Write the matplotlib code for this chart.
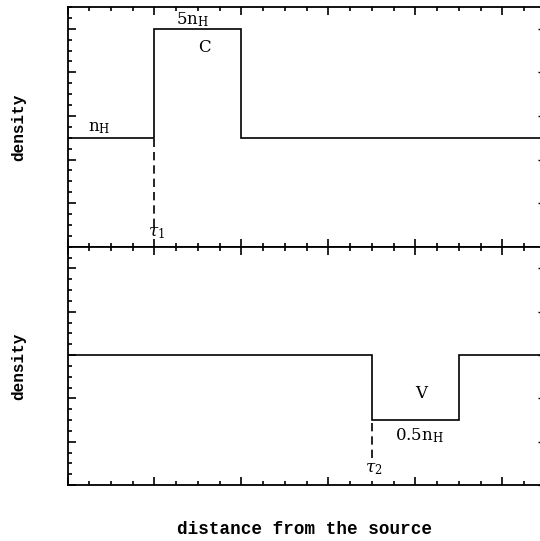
import numpy as np
import matplotlib.pyplot as plt
from matplotlib.ticker import MultipleLocator

# -----------------------------
# data (axis units: 1 major tick = 1)
# -----------------------------
x_max = 5.45
top_edges = [0.0, 1.0, 2.0, x_max]
top_levels = [2.5, 5.0, 2.5]
bot_edges = [0.0, 3.5, 4.5, x_max]
bot_levels = [3.0, 1.5, 3.0]
tau1 = 1.0
tau2 = 3.5

plt.rcParams['font.family'] = ['Liberation Mono', 'DejaVu Sans']
plt.rcParams['mathtext.fontset'] = 'custom'
plt.rcParams['mathtext.rm'] = 'DejaVu Serif'
plt.rcParams['mathtext.it'] = 'DejaVu Serif:italic'

W, H = 540, 541
fig = plt.figure(figsize=(W / 100, H / 100), dpi=100)
left, right = 67.5 / W, 541.5 / W
ax1 = fig.add_axes([left, 1 - 246.7 / H, right - left, 239.7 / H])
ax2 = fig.add_axes([left, 1 - 485 / H, right - left, 238.3 / H])

for ax in (ax1, ax2):
    ax.set_xlim(0, x_max)
    ax.set_ylim(0, 5.5)
    ax.xaxis.set_major_locator(MultipleLocator(1))
    ax.xaxis.set_minor_locator(MultipleLocator(0.25))
    ax.yaxis.set_major_locator(MultipleLocator(1))
    ax.yaxis.set_minor_locator(MultipleLocator(0.25))
    ax.tick_params(which='both', direction='in', top=True, bottom=True, left=True, right=False,
                   labelbottom=False, labelleft=False, width=1.2)
    ax.tick_params(which='major', length=6)
    ax.tick_params(which='minor', length=3)
    for s in ax.spines.values():
        s.set_linewidth(1.3)
    # right side: only short major ticks
    sec = ax.secondary_yaxis('right')
    sec.yaxis.set_major_locator(MultipleLocator(1))
    sec.tick_params(direction='in', length=3, width=1.0, labelright=False)
    sec.spines['right'].set_linewidth(1.3)
    ax.set_ylabel('density', fontsize=11.5, fontweight='bold', labelpad=30)

# -----------------------------
# top panel: cloud
# -----------------------------
ax1.stairs(top_levels, top_edges, color='black', lw=1.2, baseline=None)
ax1.plot([tau1, tau1], [0.45, top_levels[0]], color='black', lw=1.2, ls=(0, (5, 3)))
ax1.text(0.37, 2.55, r'$\mathrm{n_H}$', ha='center', va='bottom', fontsize=12)
ax1.text(1.44, 5.0, r'$\mathrm{5n_H}$', ha='center', va='bottom', fontsize=12)
ax1.text(1.58, 4.58, 'C', ha='center', va='center', fontsize=12, family='DejaVu Serif')
ax1.text(0.92, 0.3, r'$\tau_1$', ha='left', va='center', fontsize=12)

# -----------------------------
# bottom panel: void
# -----------------------------
ax2.stairs(bot_levels, bot_edges, color='black', lw=1.2, baseline=None)
ax2.plot([tau2, tau2], [0.62, bot_levels[1]], color='black', lw=1.2, ls=(0, (5, 3)))
ax2.text(4.07, 2.11, 'V', ha='center', va='center', fontsize=12, family='DejaVu Serif')
ax2.text(4.05, 1.15, r'$\mathrm{0.5n_H}$', ha='center', va='center', fontsize=12)
ax2.text(3.42, 0.37, r'$\tau_2$', ha='left', va='center', fontsize=12)

ax2.set_xlabel('distance from the source', fontsize=12.7, fontweight='bold', labelpad=26)

fig.savefig('out.png', dpi=100)
